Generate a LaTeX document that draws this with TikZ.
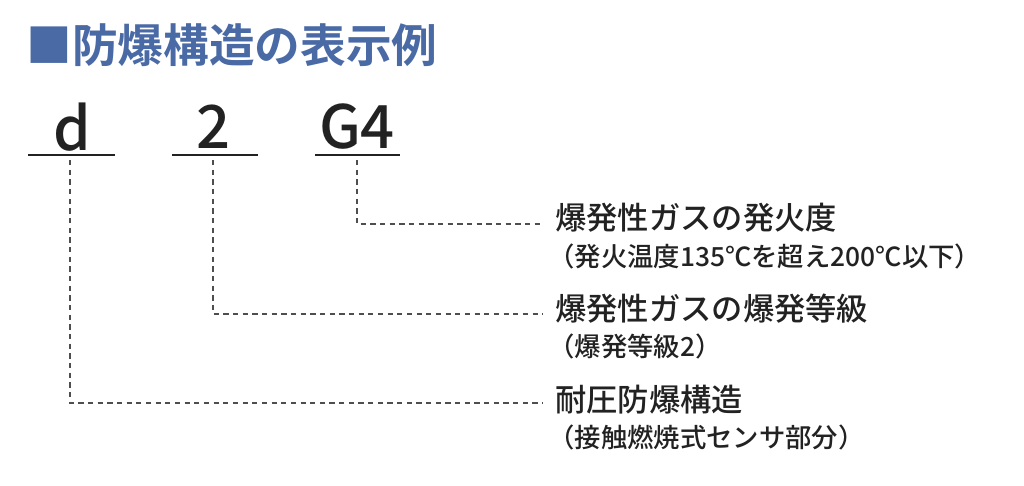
\documentclass[tikz,border=0pt]{standalone}
\usepackage{fontspec}
\newfontfamily\cjk{Noto Sans CJK JP Medium}
\newfontfamily\cjkb{Noto Sans CJK JP Bold}
\definecolor{titleblue}{HTML}{4A6AA6}
\definecolor{txt}{HTML}{222222}
\begin{document}
\begin{tikzpicture}[x=0.02cm,y=-0.02cm,
  lbl/.style={anchor=west,inner sep=0,text=txt,font=\cjk\fontsize{17.8}{20}\selectfont},
  sub/.style={anchor=west,inner sep=0,text=txt,font=\cjk\fontsize{15}{17}\selectfont},
  code/.style={inner sep=0,text=txt,font=\cjk\fontsize{34}{36}\selectfont},
  uline/.style={draw=txt,line width=0.8pt},
  lead/.style={draw=txt!80,line width=0.6pt,dash pattern=on 3pt off 2.5pt}]
\useasboundingbox (0,0) rectangle (1024,486);
\node[anchor=west,inner sep=0,text=titleblue,font=\cjkb\fontsize{26}{28}\selectfont] (title) at (26,45) {■防爆構造の表示例};
\node[code] (d) at (72,127) {d};
\node[code] (two) at (214,127) {2};
\node[code] (g) at (357,127) {G4};
\coordinate (u1a) at (28,155); \coordinate (u1b) at (115,155);
\coordinate (u2a) at (172,155); \coordinate (u2b) at (258,155);
\coordinate (u3a) at (315,155); \coordinate (u3b) at (400,155);
\draw[uline] (u1a) -- (u1b); \draw[uline] (u2a) -- (u2b); \draw[uline] (u3a) -- (u3b);
\node[lbl] (l1) at (555,218) {爆発性ガスの発火度};
\node[sub] (s1) at (548,256) {（発火温度135℃を超え200℃以下）};
\node[lbl] (l2) at (555,309) {爆発性ガスの爆発等級};
\node[sub] (s2) at (548,346) {（爆発等級2）};
\node[lbl] (l3) at (555,400) {耐圧防爆構造};
\node[sub] (s3) at (548,437) {（接触燃焼式センサ部分）};
\coordinate (v3) at (357,160); \coordinate (c3) at (357,224); \coordinate (e3) at (543,224);
\coordinate (v2) at (213,160); \coordinate (c2) at (213,314); \coordinate (e2) at (543,314);
\coordinate (v1) at (70,160); \coordinate (c1) at (70,403); \coordinate (e1) at (543,403);
\draw[lead] (v3) -- (c3) -- (e3);
\draw[lead] (v2) -- (c2) -- (e2);
\draw[lead] (v1) -- (c1) -- (e1);
\end{tikzpicture}
\end{document}
